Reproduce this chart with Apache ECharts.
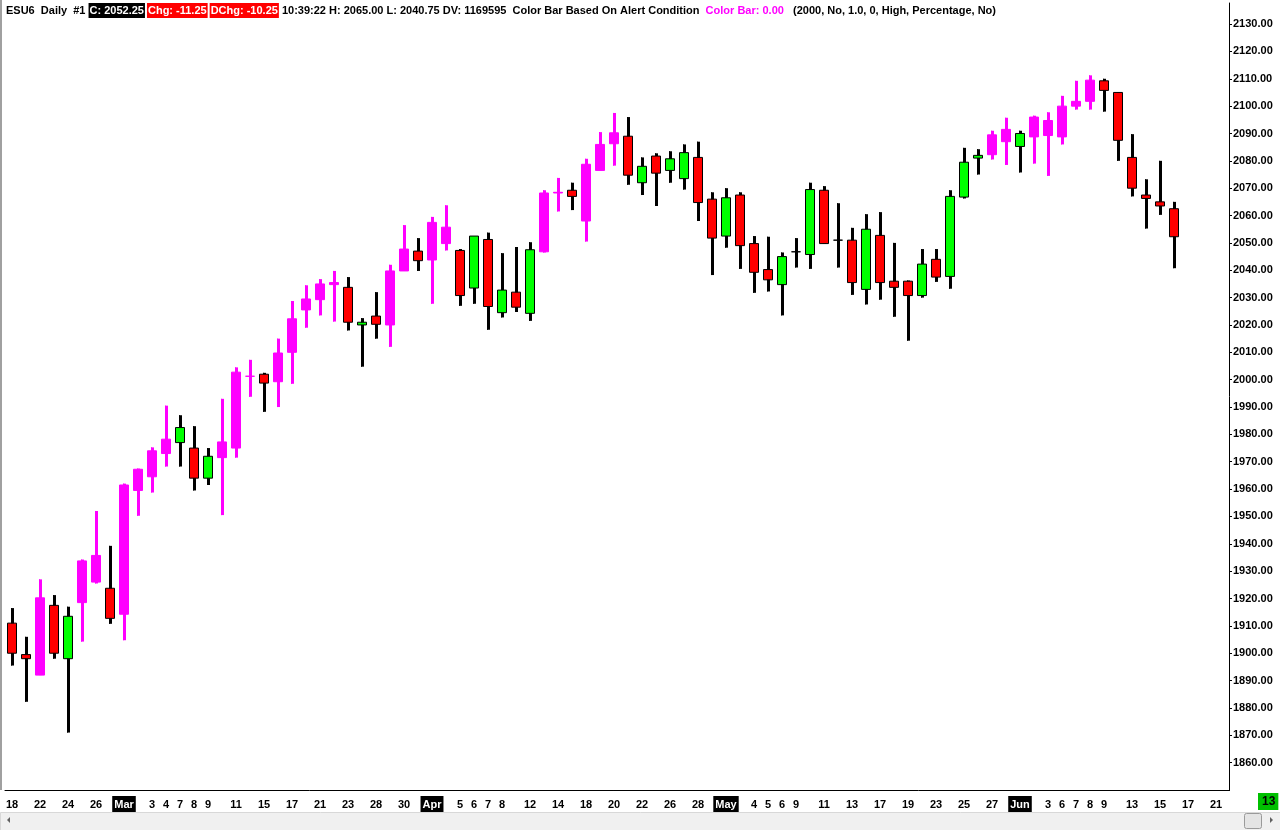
<!DOCTYPE html>
<html>
<head>
<meta charset="utf-8">
<script src="https://cdn.jsdelivr.net/npm/echarts@6/dist/echarts.min.js"></script>
<style>
  html, body { margin: 0; padding: 0; background: #fff; }
  #main { width: 1280px; height: 830px; }
</style>
</head>
<body>
<div id="main"></div>
<script>
// trading days, Feb 18 - Jun 21 2016 (last three are empty future slots)
var days = [
  "02-18", "02-19", "02-22", "02-23", "02-24", "02-25", "02-26", "02-29",
  "03-01", "03-02", "03-03", "03-04", "03-07", "03-08", "03-09", "03-10", "03-11",
  "03-14", "03-15", "03-16", "03-17", "03-18", "03-21", "03-22", "03-23", "03-24",
  "03-28", "03-29", "03-30", "03-31",
  "04-01", "04-04", "04-05", "04-06", "04-07", "04-08", "04-11", "04-12", "04-13",
  "04-14", "04-15", "04-18", "04-19", "04-20", "04-21", "04-22", "04-25", "04-26",
  "04-27", "04-28", "04-29",
  "05-02", "05-03", "05-04", "05-05", "05-06", "05-09", "05-10", "05-11", "05-12",
  "05-13", "05-16", "05-17", "05-18", "05-19", "05-20", "05-23", "05-24", "05-25",
  "05-26", "05-27", "05-31",
  "06-01", "06-02", "06-03", "06-06", "06-07", "06-08", "06-09", "06-10", "06-13",
  "06-14", "06-15", "06-16", "06-17", "06-20", "06-21",
];

// dates that get a label on the time axis
var labeledDays = [
  "02-18", "02-22", "02-24", "02-26", "03-01", "03-03", "03-04", "03-07", "03-08",
  "03-09", "03-11", "03-15", "03-17", "03-21", "03-23", "03-28", "03-30", "04-01",
  "04-05", "04-06", "04-07", "04-08", "04-12", "04-14", "04-18", "04-20", "04-22",
  "04-26", "04-28", "05-02", "05-04", "05-05", "05-06", "05-09", "05-11", "05-13",
  "05-17", "05-19", "05-23", "05-25", "05-27", "06-01", "06-03", "06-06", "06-07",
  "06-08", "06-09", "06-13", "06-15", "06-17", "06-21",
];

var monthNames = { "02": "Feb", "03": "Mar", "04": "Apr", "05": "May", "06": "Jun" };

var open = [
  1911, 1899.5, 1892, 1917.5, 1898, 1918.5, 1935.75, 1923.75,
  1914.25, 1959.5, 1964.5, 1973, 1977, 1975, 1964, 1977.25, 1975,
  2001.25, 2002, 1999.25, 2010, 2025.5, 2029.25, 2035.5, 2033.75, 2020,
  2023.25, 2020, 2039.75, 2047,
  2043.75, 2055.75, 2047.25, 2033.5, 2051.25, 2024.5, 2032, 2024.25, 2046.75,
  2068.25, 2069.25, 2058, 2076.5, 2086.25, 2089, 2072, 2081.75, 2076.5,
  2073.5, 2081.25, 2066,
  2052.5, 2067.5, 2049.75, 2040.25, 2034.75, 2046.75, 2045.75, 2069.25, 2051,
  2051, 2033, 2052.75, 2036, 2036, 2030.75, 2044, 2037.75, 2066.75,
  2081, 2082.25, 2087,
  2085.25, 2088.75, 2094.75, 2088.75, 2100, 2101.75, 2109.25, 2105, 2081.25,
  2067.5, 2065, 2062.5,
];
var high = [
  1916.5, 1906, 1927, 1921.25, 1917, 1934.25, 1952, 1939.25,
  1962, 1967.5, 1975.25, 1990.5, 1987, 1983, 1975, 1993, 2004.5,
  2007.25, 2002.5, 2015, 2028.75, 2034.5, 2036.75, 2039.75, 2037.5, 2022.5,
  2032, 2042, 2056.5, 2051.75,
  2059.5, 2063.75, 2047.75, 2052.5, 2053.75, 2046.25, 2048.5, 2050.25, 2069.25,
  2073.75, 2072, 2080.75, 2090.5, 2097.5, 2096, 2081.25, 2082.75, 2083.5,
  2086, 2087, 2068.5,
  2070, 2068.5, 2052.5, 2052.25, 2046.5, 2051.75, 2072, 2070.75, 2064.5,
  2055.5, 2060.5, 2061.25, 2050, 2036.25, 2047.75, 2047.75, 2069.25, 2084.75,
  2084.25, 2091, 2095.75,
  2091, 2096.5, 2097.75, 2103.75, 2109.25, 2111.25, 2110, 2105, 2089.75,
  2073.25, 2080, 2065,
];
var low = [
  1895.5, 1882.25, 1892, 1898, 1871, 1904.25, 1925.5, 1910.75,
  1904.75, 1950.25, 1958.75, 1968.25, 1968.25, 1959.5, 1961.5, 1950.5, 1971.5,
  1993.75, 1988.25, 1990, 1998.5, 2019, 2023.5, 2021.25, 2018, 2004.75,
  2015, 2012, 2039.75, 2039.75,
  2027.75, 2047.25, 2027, 2027.75, 2018.25, 2022.75, 2024.75, 2021.5, 2046.5,
  2061.5, 2062, 2050.5, 2076.5, 2078.25, 2071.25, 2067.5, 2063.5, 2072,
  2069.5, 2058, 2038.25,
  2048.25, 2040.5, 2031.75, 2032.25, 2023.5, 2041, 2040.5, 2049.75, 2041,
  2031, 2027.5, 2029.25, 2023, 2014.25, 2030, 2035.75, 2033.25, 2066.25,
  2075, 2080.5, 2078.5,
  2075.75, 2079, 2074.5, 2086, 2098.75, 2098.75, 2098, 2080, 2067,
  2055.25, 2060.25, 2040.75,
];
var close = [
  1900, 1898, 1920.25, 1900, 1913.5, 1933.75, 1926, 1912.75,
  1961.5, 1967.25, 1974, 1978.25, 1982.5, 1964, 1972, 1971.5, 2002.75,
  2001.25, 1998.75, 2009.75, 2022.25, 2029.5, 2035, 2034.75, 2021, 2021,
  2020.25, 2039.75, 2047.75, 2043.5,
  2057.5, 2049.75, 2030.75, 2052.5, 2026.75, 2032.75, 2026.5, 2047.5, 2068.25,
  2068.5, 2067, 2078.75, 2086, 2090.25, 2074.75, 2078, 2075.5, 2080.75,
  2083, 2064.75, 2051.75,
  2066.5, 2049, 2039.25, 2036.5, 2045, 2046.75, 2069.5, 2049.75, 2051,
  2035.5, 2055, 2035.5, 2033.75, 2030.75, 2042.25, 2037.5, 2067, 2079.5,
  2082, 2089.5, 2091.5,
  2090, 2096, 2089.25, 2100, 2101.75, 2109.5, 2105.75, 2087.5, 2070,
  2066.25, 2063.5, 2052.25,
];

// bars where the alert condition is true (painted magenta)
var alertBars = [2, 5, 6, 8, 9, 10, 11, 15, 16, 17, 19, 20, 21, 22, 23, 27, 28, 30, 31,
  38, 39, 41, 42, 43, 70, 71, 73, 74, 75, 76, 77];

var MAGENTA = "#ff00ff";

var last = close.length - 1;
var lastClose = close[last];
var chg = lastClose - close[last - 1];
var dchg = lastClose - open[last];

function isAlert(i) {
  return alertBars.indexOf(i) >= 0;
}

var bodyData = [];
var wickData = [];
for (var i = 0; i < close.length; i++) {
  var item = { value: [open[i], close[i], low[i], high[i]] };
  if (isAlert(i)) {
    item.itemStyle = {
      color: MAGENTA, color0: MAGENTA,
      borderColor: MAGENTA, borderColor0: MAGENTA, borderColorDoji: MAGENTA,
    };
  }
  bodyData.push(item);
  wickData.push([i, low[i], high[i], isAlert(i) ? 1 : 0]);
}

function isLabeled(index, value) {
  return labeledDays.indexOf(value) >= 0;
}

var header =
  "{t|ESU6  Daily  #1 }{k|C: " + lastClose.toFixed(2) + "}{g| }" +
  "{r|Chg: " + chg.toFixed(2) + "}{g| }{r|DChg: " + dchg.toFixed(2) + "}" +
  "{t| 10:39:22 H: " + high[last].toFixed(2) + " L: " + low[last].toFixed(2) +
  " DV: 1169595  Color Bar Based On Alert Condition  }" +
  "{m|Color Bar: 0.00}{t|   (2000, No, 1.0, 0, High, Percentage, No)}";

var myChart = echarts.init(document.getElementById("main"));

var option = {
  animation: false,
  backgroundColor: "#ffffff",
  textStyle: { fontFamily: "Liberation Sans, Arial, sans-serif" },
  title: {
    text: header,
    left: 6,
    top: 3,
    padding: 0,
    textStyle: {
      fontSize: 11,
      rich: {
        t: { fontSize: 11, color: "#000", padding: [1, 0, 0, 0] },
        k: { fontSize: 11, color: "#fff", backgroundColor: "#000", padding: [2, 1, 2, 1] },
        r: { fontSize: 11, color: "#fff", backgroundColor: "#ff0000", padding: [2, 1, 2, 1] },
        m: { fontSize: 11, color: MAGENTA, padding: [1, 0, 0, 0] },
        g: { fontSize: 11, width: 2 },
      },
    },
  },
  grid: { left: 5, right: 57, top: 3, bottom: 40 },
  xAxis: {
    type: "category",
    data: days,
    boundaryGap: true,
    axisLine: { lineStyle: { color: "#000", width: 1 } },
    axisTick: {
      alignWithLabel: true,
      interval: isLabeled,
      length: 4,
      lineStyle: { color: "#000" },
    },
    axisLabel: {
      interval: isLabeled,
      margin: 6,
      formatter: function (value, index) {
        var mon = value.slice(0, 2);
        if (index > 0 && days[index - 1].slice(0, 2) !== mon) {
          return "{mo|" + monthNames[mon] + "}";
        }
        return "{d|" + parseInt(value.slice(3), 10) + "}";
      },
      rich: {
        d: { fontSize: 11, fontWeight: "bold", color: "#000", padding: [3, 1, 2, 1] },
        mo: {
          fontSize: 11, fontWeight: "bold", color: "#fff",
          backgroundColor: "#000", padding: [3, 2, 2, 2],
        },
      },
    },
    splitLine: { show: false },
  },
  yAxis: {
    type: "value",
    position: "right",
    offset: 6,
    min: 1850,
    max: 2137.7,
    interval: 10,
    axisLine: { show: true, lineStyle: { color: "#000", width: 1 } },
    axisTick: { show: true, length: 3, lineStyle: { color: "#000" } },
    axisLabel: {
      color: "#000",
      fontSize: 11,
      fontWeight: "bold",
      margin: 4,
      showMinLabel: false,
      showMaxLabel: false,
      formatter: function (v) {
        return v % 10 === 0 && v > 1850 ? v.toFixed(2) : "";
      },
    },
    splitLine: { show: false },
  },
  series: [
    {
      // high-low wicks
      name: "wick",
      type: "custom",
      silent: true,
      encode: { x: 0, y: [1, 2] },
      renderItem: function (params, api) {
        var lo = api.coord([api.value(0), api.value(1)]);
        var hi = api.coord([api.value(0), api.value(2)]);
        var x = Math.round(lo[0]) + 0.5;
        return {
          type: "line",
          shape: { x1: x, y1: hi[1], x2: x, y2: lo[1] },
          style: {
            stroke: api.value(3) ? MAGENTA : "#000",
            lineWidth: 3,
          },
        };
      },
      data: wickData,
    },
    {
      // bodies
      name: "ESU6",
      type: "candlestick",
      barWidth: 10,
      silent: true,
      itemStyle: {
        color: "#00ff00", color0: "#ff0000",
        borderColor: "#000", borderColor0: "#000", borderColorDoji: "#000",
        borderWidth: 1,
      },
      data: bodyData,
      markLine: {
        silent: true,
        symbol: "none",
        lineStyle: { opacity: 0 },
        label: {
          position: "end",
          distance: 8,
          color: "#fff",
          backgroundColor: "#000",
          fontSize: 11,
          fontWeight: "bold",
          padding: [1, 1, 0, 1],
          formatter: function (p) {
            return p.value.toFixed(2);
          },
        },
        data: [{ yAxis: lastClose }],
      },
    },
  ],
  graphic: [
    { type: "rect", left: 0, top: 0, shape: { width: 2, height: 790 }, style: { fill: "#a0a0a0" } },
    { type: "rect", left: 1222, top: 790, shape: { width: 8, height: 1 }, style: { fill: "#000" } },
    { type: "rect", left: 0, top: 812, shape: { width: 1280, height: 18 }, style: { fill: "#f0f0f0", stroke: "#d8d8d8" } },
    { type: "polygon", shape: { points: [[10, 817], [10, 823], [7, 820]] }, style: { fill: "#606060" } },
    { type: "rect", left: 1244, top: 813, shape: { width: 17, height: 15, r: 2 }, style: { fill: "#e4e4e4", stroke: "#9a9a9a" } },
    { type: "polygon", shape: { points: [[1270, 817], [1270, 823], [1273, 820]] }, style: { fill: "#606060" } },
    {
      type: "text", left: 1258, top: 793,
      style: {
        text: "13", fill: "#000", backgroundColor: "#00c000",
        font: "bold 12px Liberation Sans", padding: [3, 3, 2, 4],
      },
    },
  ],
};

myChart.setOption(option);
</script>
</body>
</html>
